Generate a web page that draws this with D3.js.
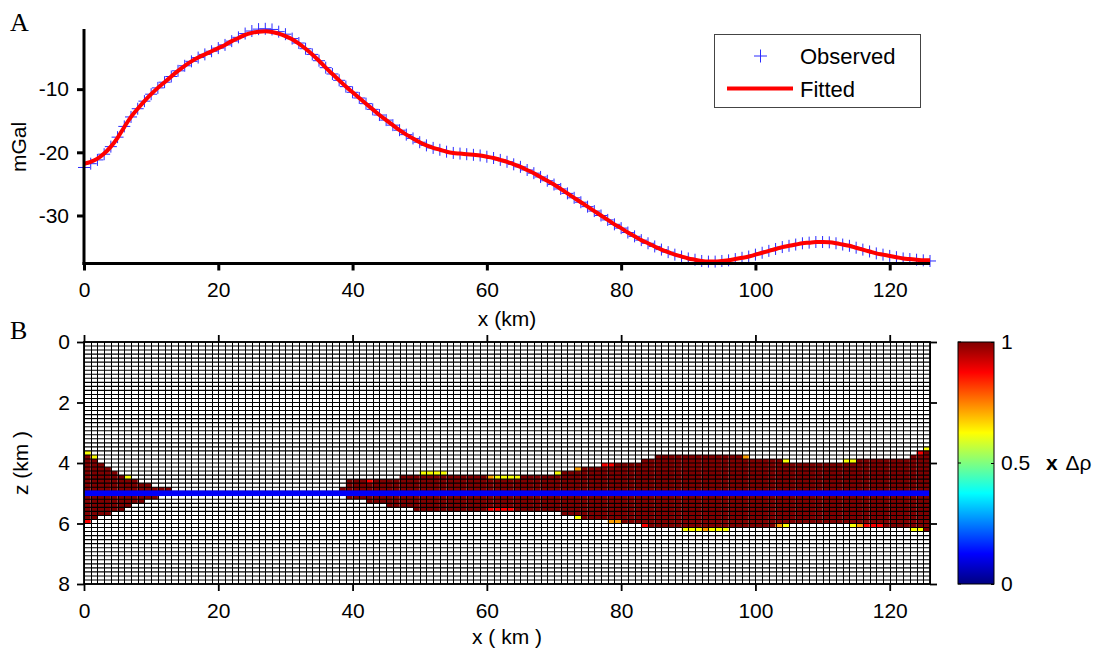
<!DOCTYPE html>
<html><head><meta charset="utf-8">
<script src="https://cdn.jsdelivr.net/npm/d3@7"></script>
<style>
body{margin:0;background:#fff}
svg{display:block}
text{font-family:"Liberation Sans",Arial,Helvetica,sans-serif;fill:#000}
</style>
</head><body>
<svg id="chart" width="1093" height="653"></svg>
<script>
// ---------------- DATA ----------------
const xTicks = [0, 20, 40, 60, 80, 100, 120];
const gravTicks = [-10, -20, -30];
const depthTicks = [0, 2, 4, 6, 8];
const colorbarTicks = [0, 0.5, 1];
const legendLabels = ["Observed", "Fitted"];

// profile positions (km) : one station per km
const stationX = d3.range(0, 127);

const observed = [
-22.4,-21.8,-21.2,-20.3,-19.1,-17.6,-15.9,-14.4,-13.1,-11.9,
-10.8,-9.8,-8.9,-8.0,-7.1,-6.3,-5.6,-5.0,-4.5,-4.0,
-3.5,-3.0,-2.4,-1.8,-1.2,-0.8,-0.5,-0.45,-0.55,-0.9,
-1.3,-2.0,-2.7,-3.6,-4.5,-5.5,-6.6,-7.6,-8.6,-9.6,
-10.5,-11.4,-12.3,-13.2,-14.1,-14.9,-15.7,-16.5,-17.2,-17.8,
-18.4,-18.9,-19.3,-19.6,-19.9,-20.1,-20.2,-20.3,-20.4,-20.5,
-20.7,-20.9,-21.2,-21.5,-21.9,-22.3,-22.8,-23.3,-23.9,-24.5,
-25.1,-25.8,-26.5,-27.2,-27.9,-28.6,-29.3,-30.0,-30.7,-31.4,
-32.0,-32.7,-33.3,-33.9,-34.4,-34.9,-35.4,-35.8,-36.2,-36.5,
-36.8,-37.0,-37.2,-37.3,-37.3,-37.2,-37.1,-36.9,-36.7,-36.5,
-36.2,-35.9,-35.6,-35.3,-35.0,-34.8,-34.6,-34.4,-34.3,-34.2,
-34.2,-34.25,-34.4,-34.6,-34.8,-35.1,-35.4,-35.7,-36.0,-36.2,
-36.4,-36.6,-36.8,-36.9,-37.0,-37.1,-37.2
];

const fitted = [
-21.8,-21.5,-21.0,-20.2,-19.1,-17.7,-16.0,-14.4,-13.1,-11.9,
-10.8,-9.8,-8.9,-8.0,-7.1,-6.3,-5.6,-5.0,-4.5,-4.0,
-3.5,-3.0,-2.4,-1.9,-1.4,-1.1,-0.9,-0.85,-0.95,-1.2,
-1.6,-2.1,-2.8,-3.6,-4.5,-5.5,-6.6,-7.6,-8.6,-9.6,
-10.5,-11.4,-12.3,-13.2,-14.1,-14.9,-15.7,-16.5,-17.2,-17.8,
-18.4,-18.9,-19.3,-19.6,-19.9,-20.1,-20.2,-20.3,-20.4,-20.5,
-20.7,-20.9,-21.2,-21.5,-21.9,-22.3,-22.8,-23.3,-23.9,-24.5,
-25.1,-25.8,-26.5,-27.2,-27.9,-28.6,-29.3,-30.0,-30.7,-31.4,
-32.0,-32.7,-33.3,-33.9,-34.4,-34.9,-35.4,-35.8,-36.2,-36.5,
-36.8,-37.0,-37.2,-37.3,-37.3,-37.2,-37.1,-36.9,-36.7,-36.5,
-36.2,-35.9,-35.6,-35.3,-35.0,-34.8,-34.6,-34.4,-34.3,-34.2,
-34.2,-34.25,-34.4,-34.6,-34.8,-35.1,-35.4,-35.7,-36.0,-36.2,
-36.4,-36.6,-36.8,-36.9,-37.0,-37.1,-37.1
];

// model mesh: 126 columns of 1 km, 60 rows over 0-8 km
const meshColumns = 126;
const meshRows = 60;
const meshDepth = 8;

// top and bottom depth (km) of the full-contrast body in each column (null = empty)
const bodyTop = [
3.73,3.87,4.0,4.13,4.27,4.4,4.53,4.53,4.67,4.67,4.8,4.8,4.8,
null,null,null,null,null,null,null,null,null,null,null,null,null,null,null,null,null,null,null,null,null,null,null,null,null,
4.8,
4.53,4.53,4.53,
4.67,
4.53,4.53,4.53,4.53,
4.4,4.4,4.4,4.4,4.4,4.4,4.4,4.4,4.4,4.4,4.4,4.4,4.4,
4.53,4.53,4.53,4.53,4.53,
4.4,4.4,4.4,4.4,4.4,4.4,
4.27,4.27,4.27,
4.13,4.13,4.13,4.13,4.13,
4.0,4.0,4.0,4.0,
3.87,3.87,
3.73,3.73,3.73,3.73,3.73,3.73,3.73,3.73,3.73,3.73,3.73,3.73,3.73,
3.87,3.87,3.87,3.87,3.87,3.87,
4.0,4.0,4.0,4.0,4.0,4.0,4.0,4.0,4.0,4.0,4.0,
3.87,3.87,3.87,3.87,3.87,3.87,3.87,3.87,
3.73,3.73,
3.6
];
const bodyBottom = [
5.87,5.87,5.73,5.73,5.6,5.6,5.47,5.33,5.33,5.2,5.2,5.07,5.07,
null,null,null,null,null,null,null,null,null,null,null,null,null,null,null,null,null,null,null,null,null,null,null,null,null,
4.93,
5.2,5.2,5.2,
5.33,5.33,5.33,
5.47,5.47,5.47,5.47,
5.6,5.6,5.6,5.6,5.6,5.6,5.6,5.6,5.6,5.6,5.6,
5.47,5.47,5.47,5.47,
5.6,5.6,5.6,5.6,5.6,5.6,5.6,
5.73,5.73,
5.73,
5.87,5.87,5.87,5.87,
5.87,5.87,
6.0,6.0,6.0,
6.0,
6.13,6.13,6.13,6.13,6.13,6.13,6.13,6.13,6.13,6.13,6.13,6.13,6.13,6.13,6.13,6.13,6.13,6.13,6.13,
6.0,6.0,6.0,6.0,6.0,6.0,6.0,6.0,6.0,6.0,6.0,6.0,6.0,6.0,6.0,6.0,
6.13,6.13,6.13,6.13,6.13,6.13,
6.27
];

// partial-contrast cells on the body edges: column, depth of cell top (km), value
const edgeColumn = [0,1,6,42,50,51,52,53,60,61,62,63,64,70,73,77,78,98,104,113,114,124,125,
                    0,60,61,62,63,73,78,79,83,89,90,91,92,93,94,95,103,104,114,115,116,117,118,123,124];
const edgeDepth  = [3.6,3.73,4.4,4.53,4.27,4.27,4.27,4.27,4.4,4.4,4.4,4.4,4.4,4.27,4.13,4.0,4.0,3.73,3.87,3.87,3.87,3.6,3.47,
                    5.87,5.47,5.47,5.47,5.47,5.73,5.87,5.87,6.0,6.13,6.13,6.13,6.13,6.13,6.13,6.13,6.0,6.0,6.0,6.0,6.0,6.0,6.0,6.13,6.13];
const edgeValue  = [0.62,0.62,0.62,0.88,0.62,0.62,0.62,0.62,0.72,0.62,0.62,0.62,0.62,0.62,0.72,0.88,0.88,0.72,0.62,0.62,0.62,0.88,0.62,
                    0.88,0.88,0.88,0.88,0.88,0.62,0.72,0.72,0.88,0.62,0.62,0.62,0.72,0.62,0.62,0.62,0.72,0.62,0.62,0.72,0.88,0.88,0.88,0.62,0.62];
const bodyValue = 1.0;

// thin low-contrast layer marked at 5 km depth
const layerDepth = 5.0;
const layerValue = 0.12;

// ---------------- DRAWING ----------------
const FS = 21;
function jet(t){
  const c = v => Math.round(255*Math.max(0, Math.min(1, v)));
  return `rgb(${c(1.5-Math.abs(4*t-3))},${c(1.5-Math.abs(4*t-2))},${c(1.5-Math.abs(4*t-1))})`;
}

const svg = d3.select("#chart");
const L = 84, R = 930;
const x = d3.scaleLinear().domain([0, 126]).range([L, R]);

// ===== Panel A =====
const yA = d3.scaleLinear().domain([-37.6, -0.48]).range([263.5, 29]);
const gA = svg.append("g");

// observed markers
gA.append("g").selectAll("path").data(stationX).join("path")
  .attr("d", (d,i) => `M${x(d)-6},${yA(observed[i])}h12M${x(d)},${yA(observed[i])-6}v12`)
  .attr("stroke", "#2a2aff").attr("stroke-width", 1).attr("fill", "none");

// fitted line
gA.append("path").datum(stationX)
  .attr("d", d3.line().x(d => x(d)).y((d,i) => yA(fitted[i])).curve(d3.curveMonotoneX))
  .attr("fill", "none").attr("stroke", "#ff0000").attr("stroke-width", 4).attr("stroke-linejoin","round");

// axes A
const axAx = gA.append("g").attr("transform", `translate(0,263.5)`)
  .call(d3.axisBottom(x).tickValues(xTicks).tickSize(7).tickSizeOuter(0).tickPadding(12).tickFormat(d => String(d)));
const axAy = gA.append("g").attr("transform", `translate(${L},0)`)
  .call(d3.axisLeft(yA).tickValues(gravTicks).tickSize(7).tickSizeOuter(0).tickPadding(8).tickFormat(d => String(d)));
[axAx, axAy].forEach(a => {
  a.selectAll(".domain").attr("stroke", "#000").attr("stroke-width", 3);
  a.selectAll(".tick line").attr("stroke", "#000").attr("stroke-width", 3);
  a.selectAll("text").attr("font-size", FS).attr("font-family", '"Liberation Sans",Arial,sans-serif').attr("fill","#000");
});
axAy.select(".domain").attr("d", `M0,${yA.range()[1]}V${yA.range()[0]+1.5}`);
axAx.select(".domain").attr("d", `M${L-1.5},0H${R}`);

svg.append("text").attr("x", (L+R)/2).attr("y", 326).attr("text-anchor", "middle").attr("font-size", FS).text("x (km)");
svg.append("text").attr("transform", "translate(26,147) rotate(-90)").attr("text-anchor", "middle").attr("font-size", FS).text("mGal");
svg.append("text").attr("x", 10).attr("y", 31).attr("font-size", 26)
  .style("font-family", '"Liberation Serif","Times New Roman",serif').text("A");

// legend
const lg = svg.append("g");
lg.append("rect").attr("x", 714.5).attr("y", 34.5).attr("width", 206).attr("height", 73)
  .attr("fill", "#fff").attr("stroke", "#444").attr("stroke-width", 1);
lg.append("path").attr("d", "M754,56h13M760.5,49.5v13").attr("stroke", "#2a2aff").attr("stroke-width", 1);
lg.append("line").attr("x1", 727).attr("x2", 793).attr("y1", 88.5).attr("y2", 88.5).attr("stroke", "#ff0000").attr("stroke-width", 4);
lg.append("text").attr("x", 800).attr("y", 63.5).attr("font-size", 22).text(legendLabels[0]);
lg.append("text").attr("x", 800).attr("y", 96.5).attr("font-size", 22).text(legendLabels[1]);

// ===== Panel B =====
const T = 342, B = 584;
const z = d3.scaleLinear().domain([0, meshDepth]).range([T, B]);
const h = meshDepth / meshRows;
const gB = svg.append("g");
gB.append("rect").attr("x", L).attr("y", T).attr("width", R-L).attr("height", B-T).attr("fill", "#fff");

// body cells
const bodyCols = d3.range(meshColumns).filter(c => bodyTop[c] !== null);
gB.append("g").selectAll("rect").data(bodyCols).join("rect")
  .attr("x", c => x(c)).attr("width", c => x(c+1)-x(c))
  .attr("y", c => z(Math.round(bodyTop[c]/h)*h))
  .attr("height", c => z(Math.round(bodyBottom[c]/h)*h) - z(Math.round(bodyTop[c]/h)*h))
  .attr("fill", jet(bodyValue));

// edge cells
gB.append("g").selectAll("rect").data(edgeColumn).join("rect")
  .attr("x", c => x(c)).attr("width", c => x(c+1)-x(c))
  .attr("y", (c,i) => z(Math.round(edgeDepth[i]/h)*h))
  .attr("height", z(h) - z(0))
  .attr("fill", (c,i) => jet(edgeValue[i]));

// mesh lines
const grid = gB.append("g").attr("stroke", "#000").attr("stroke-width", 1);
grid.selectAll("line.v").data(d3.range(meshColumns+1)).join("line").attr("class","v")
  .attr("x1", c => Math.round(x(c))+0.5).attr("x2", c => Math.round(x(c))+0.5).attr("y1", T).attr("y2", B);
grid.selectAll("line.h").data(d3.range(meshRows+1)).join("line").attr("class","h")
  .attr("y1", r => z(r*h)).attr("y2", r => z(r*h)).attr("x1", L).attr("x2", R)
  .attr("stroke-width", 1.1);

// thin layer
gB.append("rect").attr("x", x(0)).attr("width", x(meshColumns)-x(0))
  .attr("y", z(layerDepth) - 2.8).attr("height", 5.6).attr("fill", jet(layerValue));

// frame and ticks
gB.append("rect").attr("x", L).attr("y", T).attr("width", R-L).attr("height", B-T)
  .attr("fill", "none").attr("stroke", "#000").attr("stroke-width", 1.8);
const axBx = gB.append("g").attr("transform", `translate(0,${B})`)
  .call(d3.axisBottom(x).tickValues(xTicks).tickSize(7).tickSizeOuter(0).tickPadding(12).tickFormat(d => String(d)));
const axBt = gB.append("g").attr("transform", `translate(0,${T})`)
  .call(d3.axisTop(x).tickValues(xTicks).tickSize(7).tickSizeOuter(0).tickFormat(""));
const axBy = gB.append("g").attr("transform", `translate(${L},0)`)
  .call(d3.axisLeft(z).tickValues(depthTicks).tickSize(7).tickSizeOuter(0).tickPadding(7).tickFormat(d => String(d)));
const axBr = gB.append("g").attr("transform", `translate(${R},0)`)
  .call(d3.axisRight(z).tickValues(depthTicks).tickSize(7).tickSizeOuter(0).tickFormat(""));
[axBx, axBt, axBy, axBr].forEach(a => {
  a.select(".domain").remove();
  a.selectAll(".tick line").attr("stroke", "#000").attr("stroke-width", 1.8);
  a.selectAll("text").attr("font-size", FS).attr("font-family", '"Liberation Sans",Arial,sans-serif').attr("fill","#000");
});

svg.append("text").attr("x", (L+R)/2).attr("y", 644).attr("text-anchor", "middle").attr("font-size", FS).text("x ( km )");
svg.append("text").attr("transform", "translate(28,463) rotate(-90)").attr("text-anchor", "middle").attr("font-size", FS).text("z (km )");
svg.append("text").attr("x", 10).attr("y", 339).attr("font-size", 26)
  .style("font-family", '"Liberation Serif","Times New Roman",serif').text("B");

// colorbar
const cb = d3.scaleLinear().domain([0, 1]).range([B, T]);
const defs = svg.append("defs");
const grad = defs.append("linearGradient").attr("id", "jetgrad").attr("x1", 0).attr("y1", 1).attr("x2", 0).attr("y2", 0);
[0, 0.125, 0.375, 0.625, 0.875, 1].forEach(s => grad.append("stop").attr("offset", s).attr("stop-color", jet(s)));
const CBX = 958, CBW = 36;
svg.append("rect").attr("x", CBX).attr("y", T).attr("width", CBW).attr("height", B-T)
  .attr("fill", "url(#jetgrad)").attr("stroke", "#000").attr("stroke-width", 1);
const cbAx = svg.append("g").attr("transform", `translate(${CBX+CBW},0)`)
  .call(d3.axisRight(cb).tickValues(colorbarTicks).tickSize(-3).tickSizeOuter(0).tickPadding(7).tickFormat(d => String(d)));
cbAx.select(".domain").remove();
cbAx.selectAll(".tick line").attr("stroke", "#000");
cbAx.selectAll("text").attr("font-size", FS).attr("font-family", '"Liberation Sans",Arial,sans-serif').attr("fill","#000");
svg.append("g").selectAll("line").data(colorbarTicks).join("line")
  .attr("x1", CBX).attr("x2", CBX+3).attr("y1", d => cb(d)).attr("y2", d => cb(d)).attr("stroke", "#000");
const unit = svg.append("text").attr("x", 1046).attr("y", cb(0.5)+7).attr("font-size", FS);
unit.append("tspan").attr("font-weight", "bold").text("x ");
unit.append("tspan").attr("dx", 2).text("Δρ");
</script>
</body></html>
